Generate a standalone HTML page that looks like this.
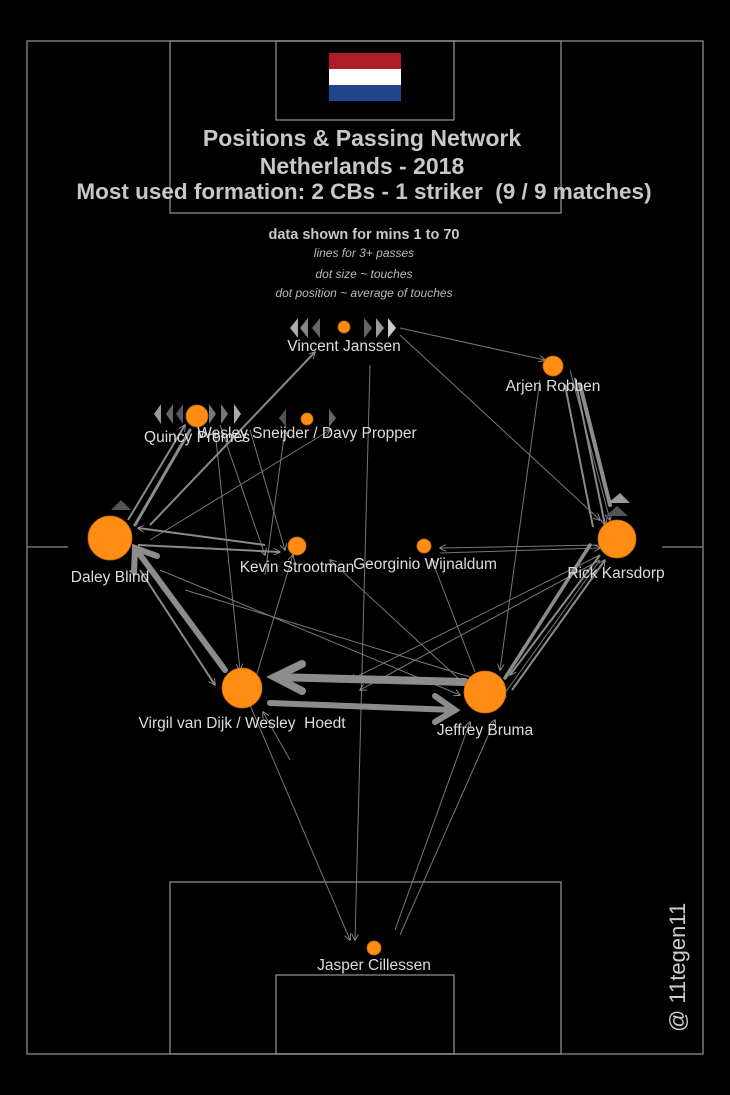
<!DOCTYPE html>
<html><head><meta charset="utf-8"><style>
html,body{margin:0;padding:0;background:#000;}
svg{display:block}
text{font-family:"Liberation Sans",Arial,sans-serif;}
</style></head><body>
<svg width="730" height="1095" viewBox="0 0 730 1095" xmlns="http://www.w3.org/2000/svg">
<defs>
<marker id="a" viewBox="0 0 10 10" refX="9" refY="5" markerWidth="7" markerHeight="7" orient="auto" markerUnits="userSpaceOnUse"><path d="M0,0 L10,5 L0,10" fill="none" stroke="#999" stroke-width="1.2"/></marker>
</defs>
<rect width="730" height="1095" fill="#000"/>
<g fill="none" stroke="#8a8a8a" stroke-width="1.3">
<rect x="27" y="41" width="676" height="1013"/>
<rect x="170" y="41" width="391" height="172"/>
<rect x="276" y="41" width="178" height="79"/>
<rect x="170" y="882" width="391" height="172"/>
<rect x="276" y="975" width="178" height="79"/>
<line x1="27" y1="547" x2="68" y2="547"/>
<line x1="662" y1="547" x2="703" y2="547"/>
</g>
<rect x="329" y="53" width="72" height="16" fill="#ae1c28"/>
<rect x="329" y="69" width="72" height="16" fill="#fff"/>
<rect x="329" y="85" width="72" height="16" fill="#21468b"/>
<g fill="#c8c8c8" font-weight="bold" text-anchor="middle" font-size="23">
<text x="362" y="146">Positions &amp; Passing Network</text>
<text x="362" y="174">Netherlands - 2018</text>
<text x="364" y="199" font-size="22.5">Most used formation: 2 CBs - 1 striker&#160; (9 / 9 matches)</text>
<text x="364" y="239" font-size="14.5">data shown for mins 1 to 70</text>
</g>
<g fill="#bbb" font-style="italic" text-anchor="middle" font-size="12">
<text x="364" y="257">lines for 3+ passes</text>
<text x="364" y="278">dot size ~ touches</text>
<text x="364" y="297">dot position ~ average of touches</text>
</g>
<g stroke="#777" stroke-width="1" fill="none" marker-end="url(#a)">
<line x1="400" y1="328" x2="545" y2="360"/>
<line x1="400" y1="335" x2="600" y2="520"/>
<line x1="370" y1="365" x2="355" y2="940"/>
<line x1="265" y1="575" x2="285" y2="430" />
<line x1="220" y1="425" x2="265" y2="555"/>
<line x1="250" y1="430" x2="285" y2="550"/>
<line x1="215" y1="430" x2="240" y2="670"/>
<line x1="255" y1="680" x2="293" y2="555"/>
<line x1="150" y1="540" x2="330" y2="430"/>
<line x1="185" y1="590" x2="480" y2="680"/>
<line x1="540" y1="380" x2="500" y2="670"/>
<line x1="570" y1="370" x2="610" y2="520"/>
<line x1="600" y1="545" x2="440" y2="548"/>
<line x1="440" y1="553" x2="600" y2="548"/>
<line x1="460" y1="680" x2="330" y2="560"/>
<line x1="475" y1="672" x2="432" y2="560"/>
<line x1="600" y1="555" x2="350" y2="680"/>
<line x1="600" y1="560" x2="360" y2="690"/>
<line x1="250" y1="705" x2="350" y2="940"/>
<line x1="290" y1="760" x2="263" y2="712"/>
<line x1="400" y1="935" x2="495" y2="720"/>
<line x1="395" y1="930" x2="470" y2="722"/>
<line x1="600" y1="560" x2="500" y2="700"/>
<line x1="160" y1="570" x2="460" y2="695"/>
</g>
<g stroke="#8a8a8a" stroke-width="2" fill="none" marker-end="url(#a)">
<line x1="150" y1="525" x2="315" y2="352"/>
<line x1="265" y1="545" x2="138" y2="528"/>
<line x1="138" y1="545" x2="280" y2="552"/>
<line x1="593" y1="527" x2="565" y2="385"/>
<line x1="575" y1="378" x2="605" y2="525"/>
<line x1="128" y1="520" x2="185" y2="425"/>
<line x1="140" y1="570" x2="215" y2="685"/>
<line x1="600" y1="555" x2="510" y2="675"/>
<line x1="512" y1="690" x2="605" y2="560"/>
</g>
<g stroke="#8c8c8c" fill="none" stroke-linecap="round">
<line x1="465" y1="682" x2="275" y2="677" stroke-width="8"/>
<polyline points="302,664 275,677 302,691" stroke-width="8"/>
<line x1="270" y1="703" x2="455" y2="710" stroke-width="6"/>
<polyline points="435,696 455,710 435,722" stroke-width="6"/>
<line x1="225" y1="670" x2="135" y2="548" stroke-width="6"/>
<polyline points="134,572 135,548 157,556" stroke-width="6"/>
<line x1="135" y1="525" x2="190" y2="430" stroke-width="3"/>
<line x1="610" y1="505" x2="580" y2="385" stroke-width="4"/>
<line x1="590" y1="545" x2="505" y2="678" stroke-width="3.5"/>
</g>
<g fill="#777">
<polygon points="290,328 298,318 298,338" fill="#aaa"/><polygon points="300,328 308,318 308,338" fill="#888"/><polygon points="312,328 320,318 320,338" fill="#666"/>
<polygon points="396,328 388,318 388,338" fill="#ccc"/><polygon points="384,328 376,318 376,338" fill="#999"/><polygon points="372,328 364,318 364,338" fill="#666"/>
<polygon points="154,414 161,404 161,424" fill="#999"/><polygon points="166,414 173,404 173,424" fill="#666"/><polygon points="176,414 183,404 183,424" fill="#555"/>
<polygon points="241,414 234,404 234,424" fill="#aaa"/><polygon points="228,414 221,404 221,424" fill="#777"/><polygon points="216,414 209,404 209,424"/>
<polygon points="279,418 286,409 286,427" fill="#555"/>
<polygon points="336,418 329,409 329,427" fill="#666"/>
<polygon points="620,493 608,503 630,503" fill="#999"/><polygon points="617,506 606,516 628,516" fill="#555"/>
<polygon points="121,500 111,510 131,510" fill="#555"/>
</g>
<g fill="#ff8c14" stroke="#c86a00" stroke-width="0.8">
<circle cx="344" cy="327" r="6"/>
<circle cx="553" cy="366" r="10"/>
<circle cx="197" cy="416" r="11"/>
<circle cx="307" cy="419" r="6"/>
<circle cx="110" cy="538" r="22"/>
<circle cx="297" cy="546" r="9"/>
<circle cx="424" cy="546" r="7"/>
<circle cx="617" cy="539" r="19"/>
<circle cx="242" cy="688" r="20"/>
<circle cx="485" cy="692" r="21"/>
<circle cx="374" cy="948" r="7"/>
</g>
<g fill="#ddd" font-size="15.5" text-anchor="middle">
<text x="344" y="351">Vincent Janssen</text>
<text x="553" y="391">Arjen Robben</text>
<text x="197" y="442">Quincy Promes</text>
<text x="307" y="438">Wesley Sneijder / Davy Propper</text>
<text x="110" y="582">Daley Blind</text>
<text x="297" y="572">Kevin Strootman</text>
<text x="425" y="569">Georginio Wijnaldum</text>
<text x="616" y="578">Rick Karsdorp</text>
<text x="242" y="728">Virgil van Dijk / Wesley&#160; Hoedt</text>
<text x="485" y="735">Jeffrey Bruma</text>
<text x="374" y="970">Jasper Cillessen</text>
</g>
<text x="685" y="1032" fill="#ccc" font-size="22" transform="rotate(-90 685 1032)">@ 11tegen11</text>
</svg>
</body></html>
